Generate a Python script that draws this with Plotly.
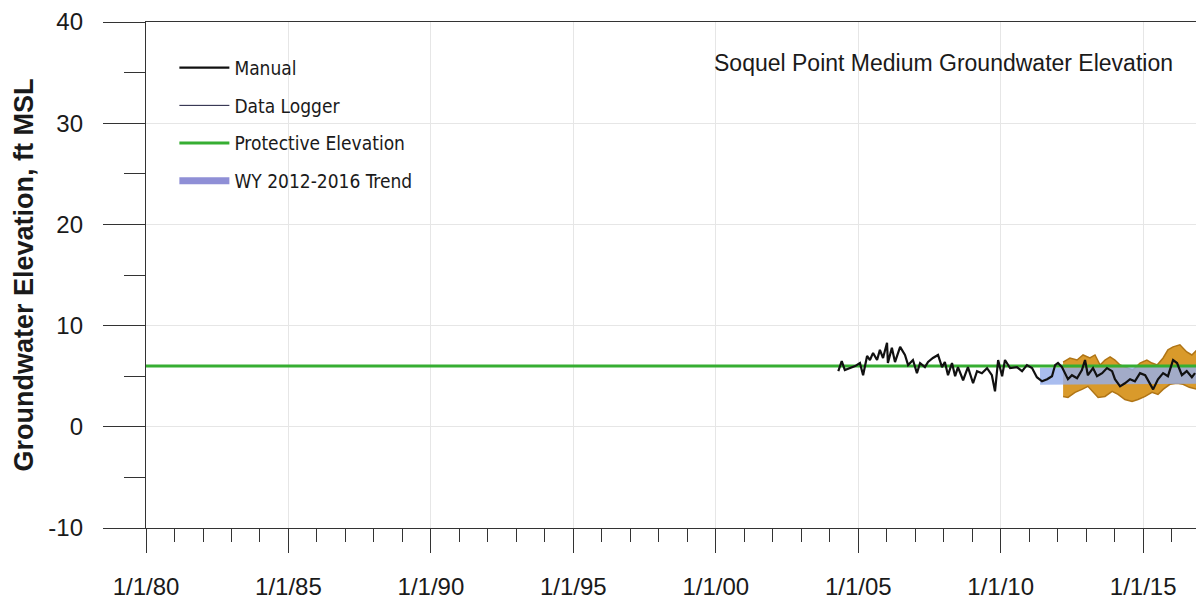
import pandas as pd
import plotly.graph_objects as go

# ---------------- data (decimal years, ft MSL) ----------------
manual_years = [2004.30, 2004.42, 2004.53, 2004.71, 2004.89, 2005.06, 2005.17, 2005.31, 2005.41, 2005.52,
                2005.66, 2005.76, 2005.87, 2006.01, 2006.04, 2006.18, 2006.29, 2006.47, 2006.64, 2006.75,
                2006.92, 2007.06, 2007.17, 2007.34, 2007.45, 2007.62, 2007.80, 2007.94, 2008.04, 2008.15,
                2008.29, 2008.40, 2008.50, 2008.68, 2008.85, 2009.03, 2009.17, 2009.34, 2009.52, 2009.69,
                2009.80, 2009.91, 2010.05, 2010.15, 2010.22, 2010.33, 2010.57, 2010.75, 2010.92, 2011.10,
                2011.27, 2011.45, 2011.63, 2011.80, 2011.91, 2012.01, 2012.15, 2012.26, 2012.36, 2012.50,
                2012.68, 2012.85, 2012.96, 2013.06, 2013.24, 2013.38, 2013.56, 2013.73, 2013.91, 2014.01,
                2014.19, 2014.36, 2014.54, 2014.71, 2014.89, 2015.07, 2015.24, 2015.35, 2015.52, 2015.70,
                2015.87, 2016.05, 2016.19, 2016.36, 2016.53, 2016.71, 2016.82]
manual_values = [5.5, 6.5, 5.6, 5.8, 6.0, 6.3, 5.1, 7.0, 6.6, 7.3,
                 6.6, 7.6, 6.8, 8.3, 6.3, 7.8, 6.4, 7.9, 7.1, 6.1,
                 6.6, 5.3, 6.3, 5.9, 6.4, 6.8, 7.1, 5.9, 6.4, 5.1,
                 6.3, 5.0, 5.9, 4.6, 5.9, 4.3, 5.5, 5.3, 5.8, 5.1,
                 3.5, 6.6, 5.0, 6.6, 6.3, 5.8, 5.9, 5.5, 6.1, 5.8,
                 4.9, 4.5, 4.7, 5.0, 6.1, 6.3, 5.9, 5.3, 4.7, 5.1,
                 4.8, 5.6, 6.6, 5.1, 5.8, 5.0, 5.3, 5.8, 5.5, 4.7,
                 4.0, 4.3, 4.7, 4.5, 5.3, 5.1, 4.3, 3.7, 4.7, 5.3,
                 5.0, 6.6, 6.3, 5.1, 5.5, 4.9, 5.3]

logger_years = [2012.15, 2012.26, 2012.36, 2012.50, 2012.68, 2012.85, 2012.96, 2013.06, 2013.24, 2013.38,
                2013.56, 2013.73, 2013.91, 2014.01, 2014.19, 2014.36, 2014.54, 2014.71, 2014.89, 2015.07,
                2015.24, 2015.35, 2015.52, 2015.70, 2015.87, 2016.05, 2016.19, 2016.36, 2016.53, 2016.71,
                2016.82]
logger_values = [5.9, 5.3, 4.7, 5.1, 4.8, 5.6, 6.6, 5.1, 5.8, 5.0,
                 5.3, 5.8, 5.5, 4.7, 4.0, 4.3, 4.7, 4.5, 5.3, 5.1,
                 4.3, 3.7, 4.7, 5.3, 5.0, 6.6, 6.3, 5.1, 5.5, 4.9,
                 5.3]

band_top_years = [2012.19, 2012.43, 2012.68, 2012.89, 2013.13, 2013.31, 2013.49, 2013.66, 2013.84, 2014.01,
                  2014.19, 2014.43, 2014.64, 2014.89, 2015.13, 2015.31, 2015.49, 2015.70, 2015.87, 2016.05,
                  2016.29, 2016.53, 2016.71, 2016.89]
band_top_values = [6.4, 6.8, 6.6, 7.1, 6.8, 7.1, 6.1, 6.6, 6.9, 6.6,
                   6.1, 5.8, 5.6, 6.3, 6.6, 6.3, 6.1, 6.8, 7.6, 7.9,
                   8.1, 7.4, 7.1, 7.6]
band_bottom_years = [2012.19, 2012.36, 2012.61, 2012.85, 2013.06, 2013.24, 2013.42, 2013.66, 2013.91, 2014.12,
                     2014.36, 2014.61, 2014.82, 2015.07, 2015.31, 2015.52, 2015.70, 2015.94, 2016.19, 2016.40,
                     2016.62, 2016.89]
band_bottom_values = [3.0, 2.9, 3.4, 3.7, 4.0, 3.4, 2.9, 3.0, 3.5, 3.2,
                      2.7, 2.5, 2.7, 3.0, 3.4, 3.2, 3.7, 4.2, 4.3, 4.2,
                      3.9, 3.7]

trend_years = [2011.38, 2016.89]
trend_values = [5.0, 5.1]

protective_years = [1980.0, 2016.89]
protective_values = [6.0, 6.0]

x_tick_years = [1980, 1985, 1990, 1995, 2000, 2005, 2010, 2015]
x_tick_labels = ["1/1/80", "1/1/85", "1/1/90", "1/1/95", "1/1/00", "1/1/05", "1/1/10", "1/1/15"]
y_tick_values = [-10, 0, 10, 20, 30, 40]
y_tick_labels = ["-10", "0", "10", "20", "30", "40"]

title_text = "Soquel Point Medium Groundwater Elevation"
y_title = "Groundwater Elevation, ft MSL"


def to_date(yrs):
    base = pd.Timestamp("1980-01-01")
    return [base + pd.Timedelta(days=(y - 1980.0) * 365.25) for y in yrs]


LEG_FONT = dict(family="Liberation Sans Narrow, DejaVu Sans Condensed, Arial Narrow, sans-serif",
                size=19, color="#1a1a1a")
TICK_FONT = dict(family="Liberation Sans, Arial, sans-serif", size=24, color="#1a1a1a")

fig = go.Figure()

# orange band (logger range)
fig.add_trace(go.Scatter(
    x=to_date(band_top_years) + to_date(band_bottom_years[::-1]),
    y=band_top_values + band_bottom_values[::-1],
    fill="toself", fillcolor="#d99a2b", mode="lines",
    line=dict(color="#b07516", width=1.5), showlegend=False, hoverinfo="skip"))

# trend band
fig.add_trace(go.Scatter(
    x=to_date(trend_years), y=trend_values, mode="lines",
    line=dict(color="rgba(150,175,235,0.82)", width=17), showlegend=False, hoverinfo="skip"))

# protective elevation
fig.add_trace(go.Scatter(
    x=to_date(protective_years), y=protective_values, mode="lines",
    name="Protective Elevation", line=dict(color="#36ae32", width=3),
    legendrank=3, legendgroup="c"))

# data logger
fig.add_trace(go.Scatter(
    x=to_date(logger_years), y=logger_values, mode="lines",
    name="Data Logger", line=dict(color="#1a1a3a", width=1),
    legendrank=2, legendgroup="b"))

# manual
fig.add_trace(go.Scatter(
    x=to_date(manual_years), y=manual_values, mode="lines",
    name="Manual", line=dict(color="#111111", width=2.2),
    legendrank=1, legendgroup="a"))

# legend entry for trend
fig.add_trace(go.Scatter(
    x=[None], y=[None], mode="lines", name="WY 2012-2016 Trend",
    line=dict(color="#8f8fd6", width=7), legendrank=4, legendgroup="d"))

# page body has an 8px margin, so the figure is 8px smaller and margins shifted
fig.update_layout(
    width=1196, height=593,
    margin=dict(l=138, r=7, t=14, b=73),
    paper_bgcolor="white", plot_bgcolor="white",
    showlegend=True,
    legend=dict(x=0.027, y=0.947, xanchor="left", yanchor="top",
                font=LEG_FONT, bgcolor="rgba(0,0,0,0)", tracegroupgap=10,
                traceorder="grouped", itemwidth=50),
    annotations=[dict(text=title_text, xref="paper", yref="paper",
                      x=0.979, y=0.918, xanchor="right", yanchor="middle",
                      showarrow=False,
                      font=dict(family="Liberation Sans, Arial, sans-serif", size=23, color="#1a1a1a"))],
)

fig.update_xaxes(
    type="date", automargin=False,
    range=[to_date([1980.0])[0], to_date([2016.89])[0]],
    tickmode="array", tickvals=to_date(x_tick_years), ticktext=x_tick_labels,
    ticks="outside", ticklen=24, tickwidth=1.3, tickcolor="#333",
    tickfont=TICK_FONT, ticklabelstandoff=13,
    showgrid=True, gridcolor="#e6e6e6", gridwidth=1,
    showline=True, linecolor="#333", linewidth=1.3, mirror=True,
    minor=dict(ticks="outside", ticklen=13, tickwidth=1, tickcolor="#333",
               tick0="1980-01-01", dtick="M12", showgrid=False),
    zeroline=False,
)

fig.update_yaxes(
    range=[-10, 40], automargin=False,
    tickmode="array", tickvals=y_tick_values, ticktext=y_tick_labels,
    ticks="outside", ticklen=42, tickwidth=1.3, tickcolor="#333",
    tickfont=TICK_FONT, ticklabelstandoff=15,
    showgrid=True, gridcolor="#e6e6e6", gridwidth=1,
    showline=True, linecolor="#333", linewidth=1.3, mirror=True,
    minor=dict(ticks="outside", ticklen=21, tickwidth=1, tickcolor="#333",
               tick0=-10, dtick=5, showgrid=False),
    zeroline=False,
    title=dict(text="<b>" + y_title + "</b>",
               font=dict(family="Liberation Sans, Arial, sans-serif", size=27, color="#1a1a1a"),
               standoff=6),
)

fig.write_html("out.html")
